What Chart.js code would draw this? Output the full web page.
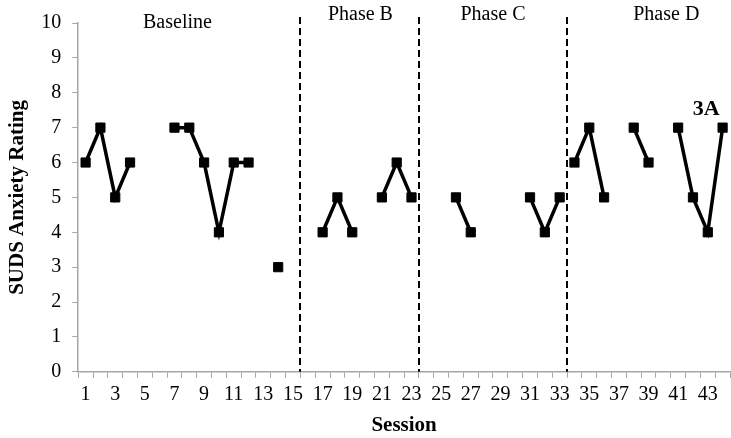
<!DOCTYPE html>
<html>
<head>
<meta charset="utf-8">
<script src="https://cdn.jsdelivr.net/npm/chart.js@4.4.1/dist/chart.umd.min.js"></script>
<style>
  html, body { margin: 0; padding: 0; background: #fff; }
  #wrap { width: 731px; height: 438px; }
</style>
</head>
<body>
<div id="wrap"><canvas id="sudsChart" width="731" height="438"></canvas></div>
<script>
// Sessions 1..44, null where no session was recorded
var sessions = [];
for (var i = 1; i <= 44; i++) sessions.push(String(i));

var suds = [
  6, 7, 5, 6, null, null, 7, 7, 6, 4, 6, 6, null, 3, null,   // Baseline 1-15
  null, 4, 5, 4, null, 5, 6, 5,                               // Phase B 16-23
  null, null, 5, 4, null, null, null, 5, 4, 5,                // Phase C 24-33
  6, 7, 5, null, 7, 6, null, 7, 5, 4, 7                       // Phase D 34-44
];

var phaseNames = ['Baseline', 'Phase B', 'Phase C', 'Phase D'];
var phaseBreaks = [15.5, 23.5, 33.5];   // between sessions
var yTicks = [0, 1, 2, 3, 4, 5, 6, 7, 8, 9, 10];

var serif = "'Liberation Serif', 'Times New Roman', serif";

function crossesPhase(ctx) {
  var s0 = ctx.p0DataIndex + 1, s1 = ctx.p1DataIndex + 1;
  return phaseBreaks.some(function (b) { return s0 < b && b < s1; });
}

// dashed phase lines and phase labels
var phasePlugin = {
  id: 'phases',
  afterDatasetsDraw: function (chart) {
    var ctx = chart.ctx, x = chart.scales.x, y = chart.scales.y;
    var area = chart.chartArea;
    var sx = function (s) { return x.getPixelForValue(s - 1); };
    ctx.save();
    ctx.strokeStyle = '#000';
    ctx.lineWidth = 2;
    ctx.setLineDash([7, 4]);
    phaseBreaks.forEach(function (b) {
      var px = Math.round(sx(b));
      ctx.beginPath();
      ctx.moveTo(px, area.top - 6);
      ctx.lineTo(px, area.bottom);
      ctx.stroke();
    });
    ctx.setLineDash([]);
    ctx.fillStyle = '#000';
    ctx.textAlign = 'center';
    ctx.textBaseline = 'alphabetic';
    ctx.font = '20px ' + serif;
    var labelAt = [7.2, 19.55, 28.5, 40.2];
    phaseNames.forEach(function (n, i) {
      ctx.fillText(n, sx(labelAt[i]), i === 0 ? area.top + 5 : area.top - 3);
    });
    ctx.font = 'bold 22px ' + serif;
    ctx.fillText('3A', sx(42.9), y.getPixelForValue(7.6) + 8);
    ctx.restore();
  }
};

new Chart(document.getElementById('sudsChart'), {
  type: 'line',
  data: {
    labels: sessions,
    datasets: [{
      label: 'SUDS',
      data: suds,
      borderColor: '#000',
      backgroundColor: '#000',
      borderWidth: 3.5,
      pointStyle: 'rect',
      pointRadius: 6.5,
      pointBorderWidth: 1,
      spanGaps: false,
      tension: 0,
      segment: {
        borderColor: function (c) { return crossesPhase(c) ? 'rgba(0,0,0,0)' : undefined; }
      }
    }]
  },
  options: {
    responsive: false,
    animation: false,
    layout: { autoPadding: false, padding: { top: 22, right: 1, left: 5, bottom: 0 } },
    plugins: { legend: { display: false }, tooltip: { enabled: false } },
    scales: {
      x: {
        type: 'category',
        offset: true,
        border: { color: '#a6a6a6', width: 1.5 },
        grid: { offset: true, drawOnChartArea: false, drawTicks: true, tickLength: 6, color: '#a6a6a6' },
        ticks: {
          autoSkip: false,
          maxRotation: 0,
          color: '#000',
          font: { family: serif, size: 20 },
          padding: 5,
          callback: function (v, i) { return i % 2 === 0 ? sessions[i] : ''; }
        },
        title: { display: true, text: 'Session', color: '#000', font: { family: serif, size: 21, weight: 'bold' }, padding: { top: 1, bottom: 0 } }
      },
      y: {
        min: 0,
        max: 10,
        afterBuildTicks: function (s) { s.ticks = yTicks.map(function (v) { return { value: v }; }); },
        border: { color: '#a6a6a6', width: 1.5 },
        grid: { drawOnChartArea: false, drawTicks: true, tickLength: 6, color: '#a6a6a6' },
        ticks: { color: '#000', font: { family: serif, size: 20 }, padding: 11 },
        title: { display: true, text: 'SUDS Anxiety Rating', color: '#000', font: { family: serif, size: 21, weight: 'bold' }, padding: { top: 0, bottom: 0 } }
      }
    }
  },
  plugins: [phasePlugin]
});
</script>
</body>
</html>
